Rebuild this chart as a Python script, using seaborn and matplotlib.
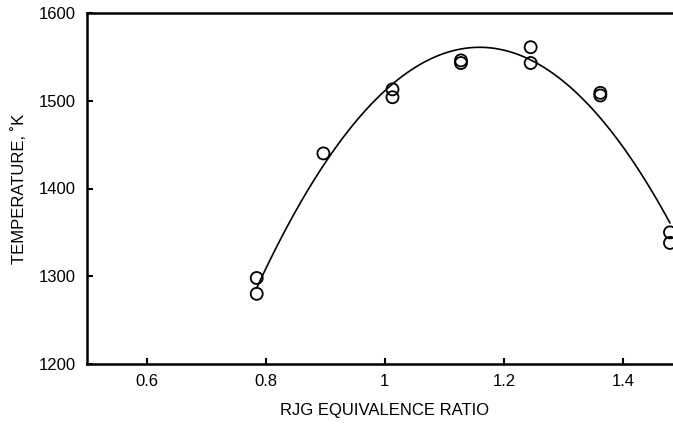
import matplotlib
matplotlib.use("Agg")
import matplotlib.pyplot as plt
import seaborn as sns
import pandas as pd

# Measured flame temperature vs. equivalence ratio
equiv_ratio = [0.785, 0.785, 0.897, 1.013, 1.013, 1.128, 1.128, 1.245, 1.245, 1.362, 1.362, 1.479, 1.479]
temperature = [1298, 1280, 1440, 1513, 1504, 1546, 1543, 1561, 1543, 1509, 1506, 1350, 1338]

x_ticks = [0.6, 0.8, 1.0, 1.2, 1.4]
x_tick_labels = ["0.6", "0.8", "1", "1.2", "1.4"]
y_ticks = [1200, 1300, 1400, 1500, 1600]

df = pd.DataFrame({"phi": equiv_ratio, "T": temperature})

sns.set_theme(style="ticks")
plt.rcParams["font.family"] = ["Liberation Sans", "DejaVu Sans"]
plt.rcParams["text.color"] = "black"
plt.rcParams["axes.labelcolor"] = "black"

fig = plt.figure(figsize=(6.73, 4.26), dpi=100)
ax = fig.add_axes([87 / 673, 1 - 364 / 426, 595.5 / 673, 351 / 426])

# Second-order least-squares fit through the data
sns.regplot(data=df, x="phi", y="T", order=2, ci=None, scatter=False,
            line_kws={"color": "black", "lw": 1.2}, ax=ax)
sns.scatterplot(data=df, x="phi", y="T", marker="o", s=75, facecolor="none",
                edgecolor="black", linewidth=1.3, ax=ax, zorder=3)

ax.set_xlim(0.5, 1.5)
ax.set_ylim(1200, 1600)
ax.set_xticks(x_ticks)
ax.set_xticklabels(x_tick_labels)
ax.set_yticks(y_ticks)
ax.set_xlabel("RJG EQUIVALENCE RATIO", fontsize=12, labelpad=10, color="black")
ax.set_ylabel("TEMPERATURE, \u02daK", fontsize=12, labelpad=8.5, color="black")
ax.tick_params(direction="in", length=4.5, width=1.5, labelsize=12, color="black", labelcolor="black")
ax.tick_params(axis="x", pad=7)
ax.tick_params(axis="y", pad=8)

for side in ["left", "top", "bottom"]:
    ax.spines[side].set_linewidth(1.8)
    ax.spines[side].set_color("black")
ax.spines["right"].set_visible(False)

fig.savefig("out.png", dpi=100)
